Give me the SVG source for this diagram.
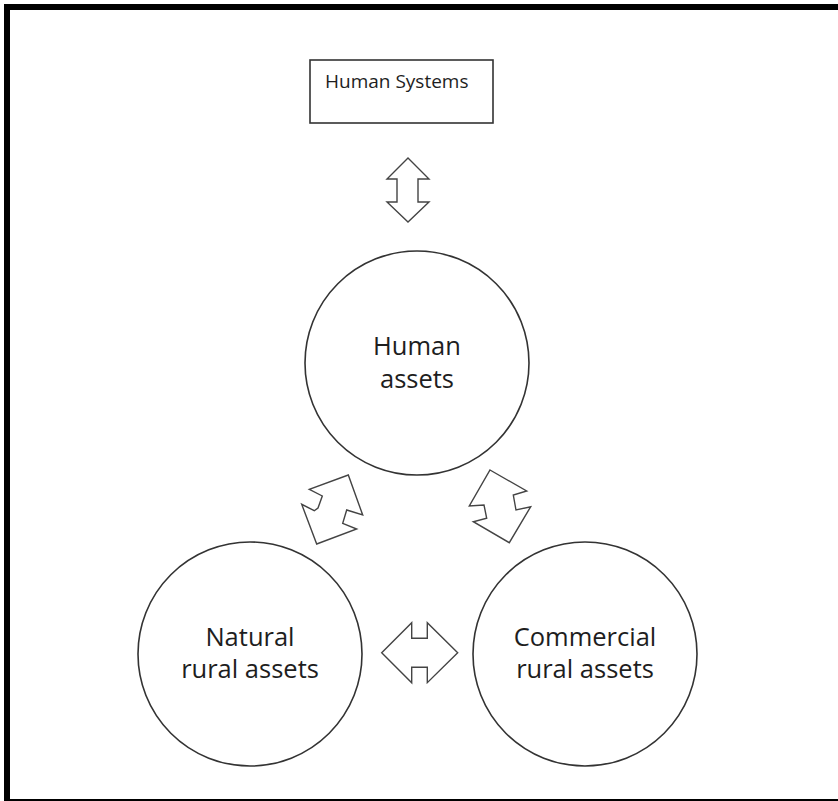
<svg xmlns="http://www.w3.org/2000/svg" width="838" height="801" viewBox="0 0 838 801">
<style>
.frame{fill:none;stroke:#000}
.node{fill:#fff;stroke:#333;stroke-width:1.6}
.arrow{fill:#fff;stroke:#444;stroke-width:1.4;stroke-linejoin:miter}
.lbl{font-family:"Open Sans","Noto Sans",sans-serif;fill:#1e1e1e;text-anchor:middle}
.big{font-size:25.5px}
.small{font-size:19px;text-anchor:start}
</style>
<rect width="838" height="801" fill="#fff"/>
<g id="frame">
<path class="frame" d="M7,801 L7,7 L838,7" stroke-width="6"/>
<line class="frame" x1="7" y1="800" x2="838" y2="800" stroke-width="2"/>
</g>
<g id="human-systems">
<rect class="node" x="310" y="60" width="183" height="63"/>
<text class="lbl small" x="325" y="88">Human Systems</text>
</g>
<g id="human-assets">
<circle class="node" cx="417" cy="363" r="112"/>
<text class="lbl big" x="417" y="355">Human</text>
<text class="lbl big" x="417" y="388">assets</text>
</g>
<g id="natural-rural-assets">
<circle class="node" cx="250" cy="654" r="112"/>
<text class="lbl big" x="250" y="646">Natural</text>
<text class="lbl big" x="250" y="678">rural assets</text>
</g>
<g id="commercial-rural-assets">
<circle class="node" cx="585" cy="654" r="112"/>
<text class="lbl big" x="585" y="646">Commercial</text>
<text class="lbl big" x="585" y="678">rural assets</text>
</g>
<g id="connectors">
<polygon class="arrow" points="408,158 429,179 418,179 418,202 429,202 408,222 387,202 397,202 397,179 387,179"/>
<polygon class="arrow" points="348.3,475 309.3,489.3 322.3,496 318,508 314.3,510.7 301.7,504.3 316.7,544 356.7,529 342.7,523.3 346.7,510 362.7,515"/>
<polygon class="arrow" points="490,470 526.7,491 513.3,495 516,510 530.7,506.7 509.3,542.7 473.3,521.7 486.7,518.3 484,505 469.3,506"/>
<polygon class="arrow" points="381.7,652.7 411.7,622.7 411.7,638.3 427.3,638.3 427.3,622.7 457.7,652.7 427.3,682.7 427.3,667.3 411.7,667.3 411.7,682.7"/>
</g>
</svg>
